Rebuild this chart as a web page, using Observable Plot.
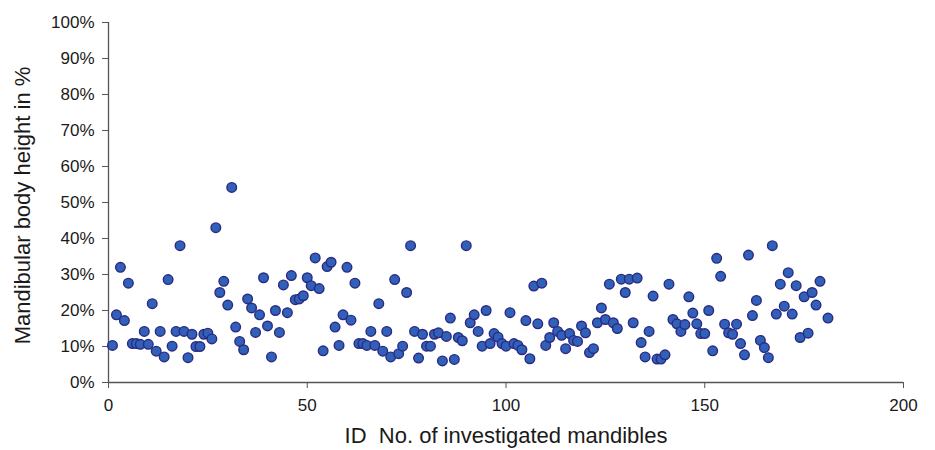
<!DOCTYPE html>
<html>
<head>
<meta charset="utf-8">
<script src="https://cdn.jsdelivr.net/npm/d3@7"></script>
<script src="https://cdn.jsdelivr.net/npm/@observablehq/plot@0.6"></script>
<style>
  html, body { margin: 0; padding: 0; background: #fff; }
</style>
</head>
<body>
<div id="chart"></div>
<script>
const ids = [
  1,2,3,4,5,6,7,8,9,10,11,12,13,14,15,16,17,18,19,20,
  21,22,23,24,25,26,27,28,29,30,31,32,33,34,35,36,37,38,39,40,
  41,42,43,44,45,46,47,48,49,50,51,52,53,54,55,56,57,58,59,60,
  61,62,63,64,65,66,67,68,69,70,71,72,73,74,75,76,77,78,79,80,
  81,82,83,84,85,86,87,88,89,90,91,92,93,94,95,96,97,98,99,100,
  101,102,103,104,105,106,107,108,109,110,111,112,113,114,115,116,117,118,119,120,
  121,122,123,124,125,126,127,128,129,130,131,132,133,134,135,136,137,138,139,140,
  141,142,143,144,145,146,147,148,149,150,151,152,153,154,155,156,157,158,159,160,
  161,162,163,164,165,166,167,168,169,170,171,172,173,174,175,176,177,178,179,181
];
const heights = [
  10.3,18.8,32.0,17.2,27.6,10.8,10.8,10.6,14.2,10.6,21.9,8.7,14.2,7.1,28.6,10.1,14.2,38.0,14.2,6.9,
  13.4,10.0,10.0,13.4,13.7,12.1,43.0,25.0,28.1,21.5,54.2,15.4,11.4,9.1,23.2,20.7,13.9,18.8,29.1,15.7,
  7.1,20.0,13.9,27.1,19.4,29.7,23.0,23.2,24.1,29.1,26.9,34.6,26.1,8.8,32.2,33.4,15.4,10.3,18.8,32.0,
  17.3,27.6,10.8,10.8,10.3,14.2,10.3,21.9,8.7,14.2,7.1,28.6,8.0,10.1,25.0,38.0,14.2,6.8,13.4,10.1,
  10.1,13.4,13.8,6.0,12.8,17.9,6.4,12.5,11.6,38.0,16.6,18.8,14.2,10.1,20.0,10.8,13.6,12.6,10.8,10.1,
  19.4,10.8,10.3,9.1,17.2,6.6,26.8,16.3,27.6,10.3,12.5,16.6,14.2,13.1,9.4,13.6,11.7,11.4,15.7,13.8,
  8.3,9.4,16.6,20.7,17.5,27.3,16.6,15.0,28.7,25.0,28.7,16.6,29.0,11.1,7.1,14.2,24.0,6.5,6.5,7.7,
  27.3,17.5,16.3,14.2,16.1,23.8,19.3,16.3,13.6,13.6,20.0,8.8,34.5,29.5,16.2,13.8,13.4,16.2,10.8,7.7,
  35.4,18.6,22.8,11.7,9.7,6.9,38.0,19.0,27.3,21.2,30.5,19.0,26.9,12.5,23.8,13.7,25.0,21.5,28.1,17.9
];
const xTicks = [0, 50, 100, 150, 200];
const yTicks = [0, 10, 20, 30, 40, 50, 60, 70, 80, 90, 100];
const xTitle = "ID\u00A0 No. of investigated mandibles";
const yTitle = "Mandibular body height in %";

const data = ids.map((id, i) => ({id, h: heights[i]}));

const chart = Plot.plot({
  width: 935,
  height: 450,
  marginLeft: 108,
  marginRight: 32,
  marginTop: 22,
  marginBottom: 68,
  style: {fontFamily: "'Liberation Sans', Arial, sans-serif", fontSize: "17px", color: "#1a1a1a", background: "#fff"},
  x: {domain: [0, 200]},
  y: {domain: [0, 100]},
  marks: [
    Plot.axisY({ticks: yTicks, tickFormat: d => d + "%", tickSize: 6, tickPadding: 8, label: null, stroke: "#555"}),
    Plot.axisX({ticks: xTicks, tickSize: 6, tickPadding: 10, label: null, stroke: "#555"}),
    Plot.ruleX([0], {stroke: "#555", strokeWidth: 1.3}),
    Plot.ruleY([0], {stroke: "#555", strokeWidth: 1.3}),
    Plot.dot(data, {x: "id", y: "h", r: 4.8, fill: "#3060b8", stroke: "#2b2a82", strokeWidth: 1.4}),
    Plot.text([yTitle], {frameAnchor: "left", textAnchor: "middle", lineAnchor: "middle", rotate: -90, dx: -86, dy: 3, fontSize: 22, fill: "#1a1a1a"}),
    Plot.text([xTitle], {frameAnchor: "bottom", textAnchor: "middle", lineAnchor: "middle", dy: 53, fontSize: 22, fill: "#1a1a1a"})
  ]
});
document.getElementById("chart").appendChild(chart);
</script>
</body>
</html>
